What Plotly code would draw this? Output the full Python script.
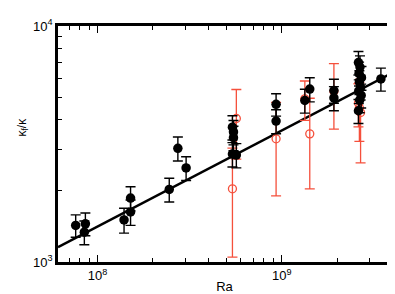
import numpy as np
import plotly.graph_objects as go

# Black (filled) measurements
black_ra = [7.61e7, 8.59e7, 8.48e7, 1.393e8, 1.511e8, 1.511e8, 2.73e8, 3.026e8, 2.451e8,
            5.40e8, 5.47e8, 5.47e8, 5.40e8, 5.67e8,
            9.32e8, 9.32e8, 1.335e9, 1.42e9, 1.92e9, 1.92e9,
            2.61e9, 2.66e9, 2.63e9, 2.71e9, 2.64e9, 2.68e9, 2.62e9, 2.70e9, 2.65e9, 2.61e9,
            3.455e9]
black_k = [1429, 1452, 1338, 1508, 1865, 1630, 3031, 2505, 2030,
           3727, 3556, 3362, 2865, 2839,
           4659, 3955, 4836, 5404, 5328, 4957,
           6998, 6700, 6300, 6040, 5790, 5500, 5300, 5082, 4850, 4374,
           5964]
black_err = [155, 160, 154, 182, 219, 200, 354, 289, 235,
             440, 420, 400, 340, 335,
             507, 460, 560, 633, 620, 580,
             800, 770, 730, 700, 670, 640, 610, 590, 560, 510,
             668]

# Red (open) measurements
red_ra = [5.40e8, 5.67e8, 9.32e8, 1.42e9, 1.335e9, 1.92e9, 2.61e9, 2.64e9, 2.68e9]
red_k = [2042, 4055, 3327, 3491, 4916, 5295, 4715, 4498, 4300]
red_err = [994, 1328, 1420, 1450, 932, 1639, 977, 1253, 1670]

# Power-law fit
fit_a = 1413.0
fit_b = 0.407
fit_ra = [6.1e7, 3.92e9]
fit_k = [fit_a * (r / 1e8) ** fit_b for r in fit_ra]

xticks = [1e8, 1e9]
xticktext = ["10<sup>8</sup>", "10<sup>9</sup>"]
yticks = [1e3, 1e4]
yticktext = ["10<sup>3</sup>", "10<sup>4</sup>"]

red = "#f5503c"

fig = go.Figure()
fig.add_trace(go.Scatter(x=fit_ra, y=fit_k, mode="lines",
                         line=dict(color="black", width=2.6), showlegend=False))
fig.add_trace(go.Scatter(x=red_ra, y=red_k, mode="markers",
                         marker=dict(symbol="circle-open", size=8, color=red, line=dict(width=1.3)),
                         error_y=dict(type="data", array=red_err, color=red, thickness=1.3, width=5),
                         showlegend=False))
fig.add_trace(go.Scatter(x=black_ra, y=black_k, mode="markers",
                         marker=dict(symbol="circle", size=9.5, color="black"),
                         error_y=dict(type="data", array=black_err, color="black", thickness=1.4, width=5),
                         showlegend=False))

minor_x = [m * 10 ** e for e in (7, 8, 9) for m in range(2, 10)]
minor_y = [m * 1e3 for m in range(2, 10)]

axis_common = dict(showline=True, linewidth=2.6, linecolor="black", mirror="allticks",
                   ticks="inside", ticklen=7, tickwidth=1.3, tickcolor="black",
                   showgrid=False, zeroline=False,
                   tickfont=dict(family="Liberation Sans, Arial", size=13, color="black"))

fig.update_xaxes(type="log", range=[np.log10(6.1e7), np.log10(3.92e9)],
                 tickmode="array", tickvals=xticks, ticktext=xticktext,
                 minor=dict(tickmode="array", tickvals=minor_x, ticks="inside", ticklen=4,
                            tickwidth=1, tickcolor="black"),
                 title=dict(text="Ra", font=dict(family="Liberation Sans, Arial", size=13, color="black"),
                            standoff=0),
                 **axis_common)
fig.update_yaxes(type="log", range=[3, 4],
                 tickmode="array", tickvals=yticks, ticktext=yticktext,
                 minor=dict(tickmode="array", tickvals=minor_y, ticks="inside", ticklen=4,
                            tickwidth=1, tickcolor="black"),
                 **axis_common)

fig.add_annotation(text="κ<sub>f</sub>/κ", xref="paper", yref="paper", x=-0.135, y=0.57,
                   textangle=-90, showarrow=False,
                   font=dict(family="Liberation Sans, Arial", size=12, color="black"))

fig.update_layout(width=395, height=294, margin=dict(l=50, r=9, t=12, b=37),
                  plot_bgcolor="white", paper_bgcolor="white")

fig.write_html("out.html")
